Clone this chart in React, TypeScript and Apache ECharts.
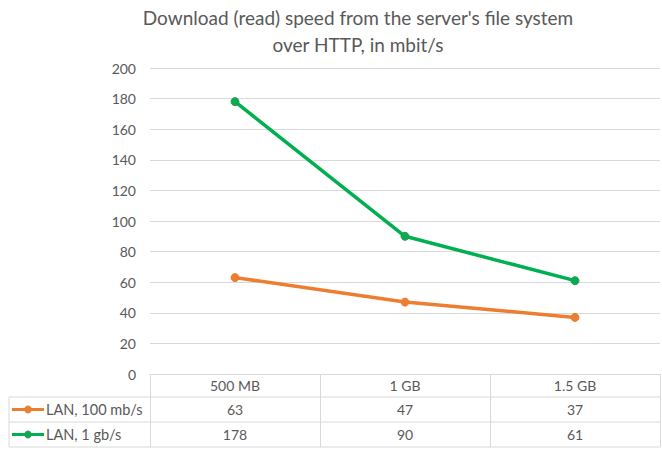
import React, { useEffect, useRef } from "react";
import * as echarts from "echarts";

const categories = ["500 MB", "1 GB", "1.5 GB"];
const seriesNames = ["LAN, 100 mb/s", "LAN, 1 gb/s"];
const lan100 = [63, 47, 37];
const lan1g = [178, 90, 61];
const seriesColors = ["#ED7D31", "#00B050"];
const markerBorders = ["#ED7D31", "#3C8F58"];
const titleLines = ["Download (read) speed from the server's file system", "over HTTP, in mbit/s"];

const FONT = "Lato, 'Open Sans', sans-serif";
const TEXT = "#595959";
const GRIDC = "#d9d9d9";

export default function App() {
  const ref = useRef<HTMLDivElement>(null);
  useEffect(() => {
    if (!ref.current) return;
    const chart = echarts.init(ref.current, undefined, { renderer: "svg" });
    const gridLeft = 150;
    const gridRight = 2;
    const gridTop = 68;
    const gridBottom = 76;
    const W = 662;
    const H = 450;
    const axisY = H - gridBottom;
    const allSeries = [lan100, lan1g];
    chart.setOption({
      animation: false,
      textStyle: { fontFamily: FONT },
      title: {
        text: titleLines.join("\n"),
        left: 358,
        top: 4,
        padding: 0,
        textAlign: "center",
        textStyle: { fontFamily: FONT, fontSize: 19, fontWeight: "normal", color: TEXT, lineHeight: 27 },
      },
      grid: { left: gridLeft, right: gridRight, top: gridTop, bottom: gridBottom },
      xAxis: {
        type: "category",
        data: categories,
        boundaryGap: true,
        axisLine: { show: true, lineStyle: { color: GRIDC, width: 1 } },
        axisTick: { show: true, length: 73, lineStyle: { color: GRIDC } },
        axisLabel: { color: TEXT, fontSize: 14, fontFamily: FONT, margin: 4 },
      },
      yAxis: {
        type: "value",
        min: 0,
        max: 200,
        interval: 20,
        axisLine: { show: false },
        axisTick: { show: false },
        axisLabel: { color: TEXT, fontSize: 14, fontFamily: FONT, margin: 14 },
        splitLine: { lineStyle: { color: GRIDC, width: 1 } },
      },
      series: allSeries.map((d, i) => ({
        name: seriesNames[i],
        type: "line",
        data: d,
        symbol: "circle",
        symbolSize: 8,
        lineStyle: { color: seriesColors[i], width: 3.5 },
        itemStyle: { color: seriesColors[i], borderColor: markerBorders[i], borderWidth: 1 },
      })),
    });

    const rowTops = [axisY + 23, axisY + 48, axisY + 73];
    const graphics: any[] = [];
    rowTops.forEach((y) => {
      graphics.push({
        type: "line",
        shape: { x1: 9, y1: y, x2: W - gridRight, y2: y },
        style: { stroke: GRIDC, lineWidth: 1 },
      });
    });
    graphics.push({
      type: "line",
      shape: { x1: 9, y1: rowTops[0], x2: 9, y2: rowTops[2] },
      style: { stroke: GRIDC, lineWidth: 1 },
    });
    allSeries.forEach((d, si) => {
      const yc = (rowTops[si] + rowTops[si + 1]) / 2;
      graphics.push({
        type: "line",
        shape: { x1: 12, y1: yc, x2: 44, y2: yc },
        style: { stroke: seriesColors[si], lineWidth: 3 },
      });
      graphics.push({
        type: "circle",
        shape: { cx: 28, cy: yc, r: 3.5 },
        style: { fill: seriesColors[si], stroke: markerBorders[si], lineWidth: 1 },
      });
      graphics.push({
        type: "text",
        x: 46,
        y: yc,
        style: { text: seriesNames[si], fill: TEXT, font: `14.5px ${FONT}`, textVerticalAlign: "middle" },
      });
      d.forEach((v, ci) => {
        const px = chart.convertToPixel({ xAxisIndex: 0 }, ci) as number;
        graphics.push({
          type: "text",
          x: px,
          y: yc,
          style: {
            text: String(v),
            fill: TEXT,
            font: `14px ${FONT}`,
            textAlign: "center",
            textVerticalAlign: "middle",
          },
        });
      });
    });
    chart.setOption({ graphic: graphics });
    return () => chart.dispose();
  }, []);
  return <div ref={ref} style={{ width: 662, height: 450, position: "absolute", left: 0, top: 0 }} />;
}
